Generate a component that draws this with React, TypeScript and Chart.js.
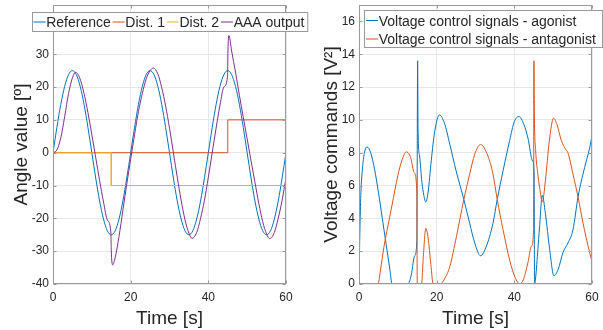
import React, { useEffect, useRef } from "react";
import { Chart, registerables } from "chart.js";

Chart.register(...registerables);

const FONT = "'Liberation Sans', Arial, Helvetica, sans-serif";
const TEXT = "#262626";
const GRID = "#e8e8e8";
const BOX = "#9a9a9a";

const BLUE = "#0072BD";
const ORANGE = "#D95319";
const YELLOW = "#EDB120";
const PURPLE = "#7E2F8E";

// ---------- shared ----------
const timeTicks = [0, 20, 40, 60];
const angleTicks = [-40, -30, -20, -10, 0, 10, 20, 30, 40];
const voltageTicks = [0, 2, 4, 6, 8, 10, 12, 14, 16];

// ---------- left chart: angle ----------
const refTime = [
  0, 1, 2, 3, 4, 5, 6, 7, 8, 9, 10, 11, 12, 13, 14, 15, 16, 17, 18, 19, 20,
  21, 22, 23, 24, 25, 26, 27, 28, 29, 30, 31, 32, 33, 34, 35, 36, 37, 38, 39, 40,
  41, 42, 43, 44, 45, 46, 47, 48, 49, 50, 51, 52, 53, 54, 55, 56, 57, 58, 59, 60,
];
const refValues = [
  0, 7.7, 14.7, 20.2, 23.8, 25, 23.8, 20.2, 14.7, 7.7, 0, -7.7, -14.7, -20.2, -23.8, -25, -23.8, -20.2, -14.7, -7.7, 0,
  7.7, 14.7, 20.2, 23.8, 25, 23.8, 20.2, 14.7, 7.7, 0, -7.7, -14.7, -20.2, -23.8, -25, -23.8, -20.2, -14.7, -7.7, 0,
  7.7, 14.7, 20.2, 23.8, 25, 23.8, 20.2, 14.7, 7.7, 0, -7.7, -14.7, -20.2, -23.8, -25, -23.8, -20.2, -14.7, -7.7, 0,
];

const dist1Time = [0, 45, 45, 60];
const dist1Values = [0, 0, 10, 10];

const dist2Time = [0, 15, 15, 60];
const dist2Values = [0, 0, -10, -10];

const aaaTime = [
  0, 1, 2, 3, 4, 5, 5.8, 6.8, 8, 9, 10, 11, 12, 13, 14, 14.9, 15.0, 15.35, 16, 17, 18, 19, 20,
  21, 22, 23, 24, 25, 25.8, 27, 28, 29, 30, 31, 32, 33, 34, 35, 35.8, 37, 38, 39, 40,
  41, 42, 43, 44, 44.95, 45.05, 45.3, 46, 47, 48, 49, 50, 51, 52, 53, 54, 55, 55.8, 57, 58, 59, 60,
];
const aaaValues = [
  0, 0.8, 4.5, 11, 18, 22.8, 24.5, 23, 18, 12.2, 5.5, -1.5, -8.5, -15, -20.5, -24.2, -29.5, -34.2, -32, -25.5, -17.5, -9.5, -2,
  5.5, 12.5, 18, 22.5, 25, 25.8, 24, 19.8, 14.2, 7.5, 0, -7.5, -14.5, -20.5, -24.5, -26.1, -24.3, -20, -14.5, -7.5,
  0, 7.5, 14.5, 20, 23.3, 31, 35.7, 31, 24.5, 17.5, 10.8, 4.2, -2.5, -9, -15.5, -21, -24.8, -26.2, -24.3, -20, -14.5, -7.6,
];

// ---------- right chart: voltage ----------
const agonistTime = [
  0, 0.25, 0.5, 1, 1.5, 2.1, 3, 4, 5, 6, 7, 8, 8.5, 12.6, 13.5, 14.3, 14.9, 15.1, 15.2, 15.6, 16.2, 16.7, 17.2,
  17.8, 18.6, 19.5, 20.7, 22, 23.4, 25, 27, 28.5, 29.8, 31.3, 32.8, 34.5, 35.6, 37.1, 38.8, 40, 41.2,
  42.5, 43.5, 44.7, 45.1, 45.2, 45.4, 46, 46.5, 47.2, 48, 49.1, 50.2, 51.3, 52.5, 53.8, 55.1, 56.4, 58.1, 59.4, 60,
];
const agonistValues = [
  0, 3.5, 5.6, 7.3, 8.1, 8.35, 8.0, 7.0, 5.6, 4.0, 2.4, 0.8, 0, 0, 0.6, 1.7, 2.6, 13.6, 9.5, 7.8, 6.2, 5.4, 5.0,
  5.6, 7.5, 9.3, 10.3, 9.8, 8.5, 6.9, 5.15, 3.7, 2.5, 1.72, 2.3, 3.7, 5.15, 6.9, 8.75, 9.9, 10.2,
  9.7, 8.9, 7.5, 6.8, 0, 0.2, 1.9, 3.5, 5.4, 4.3, 2.1, 0.5, 0.9, 1.9, 2.5, 3.3, 5.3, 7.1, 8.3, 9.05,
];

const antagonistTime = [
  0, 4.9, 5.5, 6.45, 7.5, 8.5, 10, 11, 12.2, 13.3, 14.2, 14.9, 15.0, 16.1, 16.6, 17.2, 17.8, 18.5, 19.1,
  20.9, 22, 23.4, 25.1, 27, 28.5, 29.8, 31.3, 33.2, 34.5, 35.6, 37.1, 38.8, 40.2, 41.4, 42.3, 43.5, 44.4, 44.95,
  45.05, 45.15, 45.5, 46, 46.5, 47.2, 48, 49, 50.1, 51, 52.1, 53.2, 53.8, 55.1, 56.4, 57.7, 59, 60,
];
const antagonistValues = [
  0, 0, 0.8, 2.3, 3.6, 4.8, 6.6, 7.5, 8.05, 7.7, 6.8, 5.6, 0, 0, 1.8, 3.4, 2.8, 1.2, 0,
  0, 0.3, 1.07, 2.9, 5.15, 6.7, 7.9, 8.5, 7.8, 6.7, 5.15, 3.3, 1.45, 0.4, 0.02, 0.25, 1.3, 2.3, 3.3,
  13.6, 10.5, 8.1, 6.8, 5.9, 5.0, 6.3, 8.7, 10.1, 9.7, 8.75, 8.2, 8.0, 6.7, 5.3, 3.7, 2.3, 1.37,
];

const pts = (t: number[], v: number[]) => t.map((x, i) => ({ x, y: v[i] }));

type LegendCfg = {
  horizontal: boolean;
  left: number;
  top: number;
  width?: number;
  height: number;
  rowCenters: number[];
};

type FrameCfg = {
  xTitle: string;
  yTitle: string;
  yTitleX: number;
  legend: LegendCfg;
};

function makeFramePlugin(cfg: FrameCfg) {
  return {
    id: "frame",
    afterDraw(chart: any) {
      const { ctx, chartArea: a } = chart;
      const xs = chart.scales.x;
      const ys = chart.scales.y;
      const L = Math.round(a.left) + 0.5;
      const R = Math.round(a.right) - 0.5;
      const T = Math.round(a.top) + 0.5;
      const B = Math.round(a.bottom) - 0.5;
      ctx.save();
      ctx.strokeStyle = BOX;
      ctx.lineWidth = 1;
      // inward tick marks
      ctx.beginPath();
      for (const t of xs.ticks) {
        const px = Math.round(xs.getPixelForValue(t.value)) + 0.5;
        ctx.moveTo(px, B);
        ctx.lineTo(px, B - 3);
        ctx.moveTo(px, T);
        ctx.lineTo(px, T + 3);
      }
      for (const t of ys.ticks) {
        const py = Math.round(ys.getPixelForValue(t.value)) + 0.5;
        ctx.moveTo(L, py);
        ctx.lineTo(L + 3, py);
        ctx.moveTo(R, py);
        ctx.lineTo(R - 3, py);
      }
      ctx.stroke();
      ctx.strokeRect(L, T, R - L, B - T);

      // axis titles
      ctx.fillStyle = TEXT;
      ctx.font = `19px ${FONT}`;
      ctx.textAlign = "center";
      ctx.textBaseline = "alphabetic";
      ctx.fillText(cfg.xTitle, (a.left + a.right) / 2, 323.5);
      ctx.save();
      ctx.translate(cfg.yTitleX, (a.top + a.bottom) / 2);
      ctx.rotate(-Math.PI / 2);
      ctx.fillText(cfg.yTitle, 0, 0);
      ctx.restore();

      // legend
      const lg = cfg.legend;
      const ds = chart.data.datasets;
      ctx.font = `14px ${FONT}`;
      ctx.textAlign = "left";
      const lineLen = 12;
      let width = lg.width || 0;
      const xs0: number[] = [];
      if (lg.horizontal) {
        let x = lg.left + 1;
        for (let i = 0; i < ds.length; i++) {
          xs0.push(x);
          x += lineLen + 0.7 + ctx.measureText(ds[i].label).width + 1.8;
        }
        width = x + 1.5 - lg.left;
      }
      ctx.fillStyle = "#ffffff";
      ctx.fillRect(lg.left, lg.top, width, lg.height);
      ctx.strokeStyle = BOX;
      ctx.strokeRect(lg.left, lg.top, width, lg.height);
      for (let i = 0; i < ds.length; i++) {
        const x = lg.horizontal ? xs0[i] : lg.left + 1.5;
        const cy = lg.horizontal ? lg.rowCenters[0] : lg.rowCenters[i];
        ctx.strokeStyle = ds[i].borderColor;
        ctx.lineWidth = 1;
        ctx.beginPath();
        ctx.moveTo(x, cy);
        ctx.lineTo(x + lineLen, cy);
        ctx.stroke();
        ctx.fillStyle = TEXT;
        ctx.fillText(ds[i].label, x + lineLen + 0.7, cy + 5);
      }
      ctx.restore();
    },
  };
}

function baseOptions(yMin: number, yMax: number, yTicks: number[], yWidth: number, padRight: number) {
  return {
    animation: false,
    responsive: false,
    maintainAspectRatio: false,
    devicePixelRatio: 1,
    layout: { padding: { top: 5, right: padRight, left: 0, bottom: 0 } },
    plugins: { legend: { display: false }, tooltip: { enabled: false } },
    elements: { point: { radius: 0 }, line: { borderWidth: 1 } },
    scales: {
      x: {
        type: "linear",
        min: 0,
        max: 60,
        afterBuildTicks: (s: any) => {
          s.ticks = timeTicks.map((v) => ({ value: v }));
        },
        afterFit: (s: any) => {
          s.height = 46;
          s.paddingLeft = 0;
          s.paddingRight = 0;
        },
        ticks: { color: TEXT, font: { family: FONT, size: 12 }, padding: 6, maxRotation: 0 },
        grid: { color: GRID, drawTicks: false },
        border: { display: false },
      },
      y: {
        type: "linear",
        min: yMin,
        max: yMax,
        afterBuildTicks: (s: any) => {
          s.ticks = yTicks.map((v) => ({ value: v }));
        },
        afterFit: (s: any) => {
          s.width = yWidth;
          s.paddingTop = 0;
          s.paddingBottom = 0;
        },
        ticks: { color: TEXT, font: { family: FONT, size: 12 }, padding: 4 },
        grid: { color: GRID, drawTicks: false },
        border: { display: false },
      },
    },
  };
}

export default function App() {
  const leftRef = useRef<HTMLCanvasElement>(null);
  const rightRef = useRef<HTMLCanvasElement>(null);

  useEffect(() => {
    const left = new Chart(leftRef.current as HTMLCanvasElement, {
      type: "line",
      data: {
        datasets: [
          { label: "Reference", data: pts(refTime, refValues), borderColor: BLUE, cubicInterpolationMode: "monotone", order: 4 },
          { label: "Dist. 1", data: pts(dist1Time, dist1Values), borderColor: ORANGE, tension: 0, order: 3 },
          { label: "Dist. 2", data: pts(dist2Time, dist2Values), borderColor: YELLOW, tension: 0, order: 2 },
          { label: "AAA output", data: pts(aaaTime, aaaValues), borderColor: PURPLE, cubicInterpolationMode: "monotone", order: 1 },
        ],
      },
      options: baseOptions(-40, 45, angleTicks, 53, 34) as any,
      plugins: [
        makeFramePlugin({
          xTitle: "Time [s]",
          yTitle: "Angle value [º]",
          yTitleX: 27,
          legend: { horizontal: true, left: 32.5, top: 12.5, height: 19, rowCenters: [22] },
        }),
      ],
    } as any);

    const right = new Chart(rightRef.current as HTMLCanvasElement, {
      type: "line",
      data: {
        datasets: [
          { label: "Voltage control signals - agonist", data: pts(agonistTime, agonistValues), borderColor: BLUE, cubicInterpolationMode: "monotone", order: 2 },
          { label: "Voltage control signals - antagonist", data: pts(antagonistTime, antagonistValues), borderColor: ORANGE, cubicInterpolationMode: "monotone", order: 1 },
        ],
      },
      options: baseOptions(0, 17, voltageTicks, 39, 11) as any,
      plugins: [
        makeFramePlugin({
          xTitle: "Time [s]",
          yTitle: "Voltage commands [V²]",
          yTitleX: 17,
          legend: { horizontal: false, left: 44.5, top: 10.5, width: 238, height: 37, rowCenters: [20.5, 39] },
        }),
      ],
    } as any);

    return () => {
      left.destroy();
      right.destroy();
    };
  }, []);

  return (
    <div style={{ position: "absolute", left: 0, top: 0, width: 603, height: 330, background: "#ffffff", overflow: "hidden" }}>
      <canvas ref={leftRef} width={320} height={330} style={{ position: "absolute", left: 0, top: 0, width: 320, height: 330 }} />
      <canvas ref={rightRef} width={283} height={330} style={{ position: "absolute", left: 320, top: 0, width: 283, height: 330 }} />
    </div>
  );
}
